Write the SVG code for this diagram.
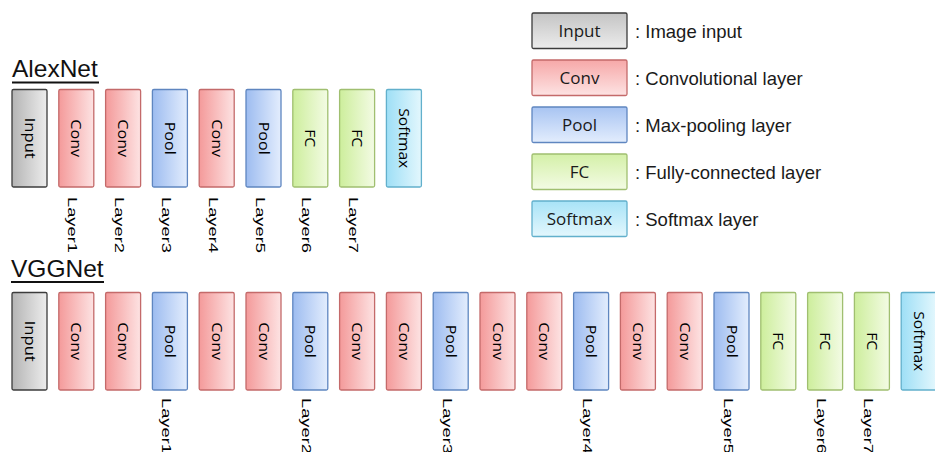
<svg xmlns="http://www.w3.org/2000/svg" width="935" height="452" viewBox="0 0 935 452">
<defs>
<linearGradient id="hIn" x1="0" y1="0" x2="1" y2="0"><stop offset="0" stop-color="#b4b4b4"/><stop offset="1" stop-color="#ededed"/></linearGradient>
<linearGradient id="hCv" x1="0" y1="0" x2="1" y2="0"><stop offset="0" stop-color="#f49a9a"/><stop offset="1" stop-color="#fde3e3"/></linearGradient>
<linearGradient id="hPl" x1="0" y1="0" x2="1" y2="0"><stop offset="0" stop-color="#9dbcf0"/><stop offset="1" stop-color="#e3edfd"/></linearGradient>
<linearGradient id="hFc" x1="0" y1="0" x2="1" y2="0"><stop offset="0" stop-color="#cdee9c"/><stop offset="1" stop-color="#f3fbe4"/></linearGradient>
<linearGradient id="hSm" x1="0" y1="0" x2="1" y2="0"><stop offset="0" stop-color="#9edff6"/><stop offset="1" stop-color="#e3f7fd"/></linearGradient>
<linearGradient id="vIn" x1="0" y1="0" x2="0" y2="1"><stop offset="0" stop-color="#c4c4c4"/><stop offset="1" stop-color="#ececec"/></linearGradient>
<linearGradient id="vCv" x1="0" y1="0" x2="0" y2="1"><stop offset="0" stop-color="#f6a8a8"/><stop offset="1" stop-color="#fde3e3"/></linearGradient>
<linearGradient id="vPl" x1="0" y1="0" x2="0" y2="1"><stop offset="0" stop-color="#a8c4f2"/><stop offset="1" stop-color="#e3edfd"/></linearGradient>
<linearGradient id="vFc" x1="0" y1="0" x2="0" y2="1"><stop offset="0" stop-color="#d4f0a8"/><stop offset="1" stop-color="#f3fbe4"/></linearGradient>
<linearGradient id="vSm" x1="0" y1="0" x2="0" y2="1"><stop offset="0" stop-color="#a8e3f7"/><stop offset="1" stop-color="#e3f7fd"/></linearGradient>
</defs>
<style>
rect{stroke-width:1.3}
.in{stroke:#3c3c3c}
.cv{stroke:#c46a6a}
.pl{stroke:#5f86c0}
.fc{stroke:#a0bf70}
.sm{stroke:#62b0cc}
.h.in{fill:url(#hIn)}.h.cv{fill:url(#hCv)}.h.pl{fill:url(#hPl)}.h.fc{fill:url(#hFc)}.h.sm{fill:url(#hSm)}
.v.in{fill:url(#vIn)}.v.cv{fill:url(#vCv)}.v.pl{fill:url(#vPl)}.v.fc{fill:url(#vFc)}.v.sm{fill:url(#vSm)}
.bt{font-family:"Open Sans","Noto Sans",sans-serif;font-size:16px;fill:#000;text-anchor:middle}
.lt{font-family:"Open Sans","Noto Sans",sans-serif;font-size:17px;fill:#1a1a1a;text-anchor:middle}
.lab{font-family:"Liberation Sans",Arial,sans-serif;font-size:18px;fill:#000}
.leg{font-family:"Liberation Sans",Arial,sans-serif;font-size:18.5px;fill:#1a1a1a}
.title{font-family:"Liberation Sans",Arial,sans-serif;font-size:24.5px;fill:#111}
.ul{stroke:#111;stroke-width:2}
</style>

<g id="titles">
<text class="title" x="12" y="77">AlexNet</text>
<line class="ul" x1="12" y1="82.5" x2="99" y2="82.5"/>
<text class="title" x="11" y="277">VGGNet</text>
<line class="ul" x1="11" y1="282" x2="104" y2="282"/>
</g>

<g id="connectors"/>

<!-- AlexNet -->
<g id="alex-input"><rect class="h in" x="12" y="89.5" width="35" height="97.5" rx="1.5"/><text class="bt" transform="translate(29.5,138.2) rotate(90) scale(1,0.85)" dy="0.36em" textLength="41" lengthAdjust="spacingAndGlyphs">Input</text></g>
<g id="alex-conv1"><rect class="h cv" x="58.8" y="89.5" width="35" height="97.5" rx="1.5"/><text class="bt" transform="translate(76.3,138.2) rotate(90) scale(1,0.85)" dy="0.36em" textLength="38" lengthAdjust="spacingAndGlyphs">Conv</text><text class="lab" transform="translate(68.3,197) rotate(90) scale(1,0.76)" textLength="56" lengthAdjust="spacingAndGlyphs">Layer1</text></g>
<g id="alex-conv2"><rect class="h cv" x="105.6" y="89.5" width="35" height="97.5" rx="1.5"/><text class="bt" transform="translate(123.1,138.2) rotate(90) scale(1,0.85)" dy="0.36em" textLength="38" lengthAdjust="spacingAndGlyphs">Conv</text><text class="lab" transform="translate(115.1,197) rotate(90) scale(1,0.76)" textLength="56" lengthAdjust="spacingAndGlyphs">Layer2</text></g>
<g id="alex-pool3"><rect class="h pl" x="152.4" y="89.5" width="35" height="97.5" rx="1.5"/><text class="bt" transform="translate(169.9,138.2) rotate(90) scale(1,0.85)" dy="0.36em" textLength="33" lengthAdjust="spacingAndGlyphs">Pool</text><text class="lab" transform="translate(161.9,197) rotate(90) scale(1,0.76)" textLength="56" lengthAdjust="spacingAndGlyphs">Layer3</text></g>
<g id="alex-conv4"><rect class="h cv" x="199.2" y="89.5" width="35" height="97.5" rx="1.5"/><text class="bt" transform="translate(216.7,138.2) rotate(90) scale(1,0.85)" dy="0.36em" textLength="38" lengthAdjust="spacingAndGlyphs">Conv</text><text class="lab" transform="translate(208.7,197) rotate(90) scale(1,0.76)" textLength="56" lengthAdjust="spacingAndGlyphs">Layer4</text></g>
<g id="alex-pool5"><rect class="h pl" x="246" y="89.5" width="35" height="97.5" rx="1.5"/><text class="bt" transform="translate(263.5,138.2) rotate(90) scale(1,0.85)" dy="0.36em" textLength="33" lengthAdjust="spacingAndGlyphs">Pool</text><text class="lab" transform="translate(255.5,197) rotate(90) scale(1,0.76)" textLength="56" lengthAdjust="spacingAndGlyphs">Layer5</text></g>
<g id="alex-fc6"><rect class="h fc" x="292.8" y="89.5" width="35" height="97.5" rx="1.5"/><text class="bt" transform="translate(310.3,138.2) rotate(90) scale(1,0.85)" dy="0.36em" textLength="18" lengthAdjust="spacingAndGlyphs">FC</text><text class="lab" transform="translate(302.3,197) rotate(90) scale(1,0.76)" textLength="56" lengthAdjust="spacingAndGlyphs">Layer6</text></g>
<g id="alex-fc7"><rect class="h fc" x="339.6" y="89.5" width="35" height="97.5" rx="1.5"/><text class="bt" transform="translate(357.1,138.2) rotate(90) scale(1,0.85)" dy="0.36em" textLength="18" lengthAdjust="spacingAndGlyphs">FC</text><text class="lab" transform="translate(349.1,197) rotate(90) scale(1,0.76)" textLength="56" lengthAdjust="spacingAndGlyphs">Layer7</text></g>
<g id="alex-softmax"><rect class="h sm" x="386.4" y="89.5" width="35" height="97.5" rx="1.5"/><text class="bt" transform="translate(403.9,138.2) rotate(90) scale(1,0.85)" dy="0.36em" textLength="60" lengthAdjust="spacingAndGlyphs">Softmax</text></g>

<!-- VGGNet -->
<g id="vgg-input"><rect class="h in" x="12" y="292.5" width="35" height="97.5" rx="1.5"/><text class="bt" transform="translate(29.5,341.2) rotate(90) scale(1,0.85)" dy="0.36em" textLength="41" lengthAdjust="spacingAndGlyphs">Input</text></g>
<g id="vgg-conv1"><rect class="h cv" x="58.8" y="292.5" width="35" height="97.5" rx="1.5"/><text class="bt" transform="translate(76.3,341.2) rotate(90) scale(1,0.85)" dy="0.36em" textLength="38" lengthAdjust="spacingAndGlyphs">Conv</text></g>
<g id="vgg-conv2"><rect class="h cv" x="105.6" y="292.5" width="35" height="97.5" rx="1.5"/><text class="bt" transform="translate(123.1,341.2) rotate(90) scale(1,0.85)" dy="0.36em" textLength="38" lengthAdjust="spacingAndGlyphs">Conv</text></g>
<g id="vgg-pool1"><rect class="h pl" x="152.4" y="292.5" width="35" height="97.5" rx="1.5"/><text class="bt" transform="translate(169.9,341.2) rotate(90) scale(1,0.85)" dy="0.36em" textLength="33" lengthAdjust="spacingAndGlyphs">Pool</text><text class="lab" transform="translate(161.9,398) rotate(90) scale(1,0.76)" textLength="56" lengthAdjust="spacingAndGlyphs">Layer1</text></g>
<g id="vgg-conv3"><rect class="h cv" x="199.2" y="292.5" width="35" height="97.5" rx="1.5"/><text class="bt" transform="translate(216.7,341.2) rotate(90) scale(1,0.85)" dy="0.36em" textLength="38" lengthAdjust="spacingAndGlyphs">Conv</text></g>
<g id="vgg-conv4"><rect class="h cv" x="246" y="292.5" width="35" height="97.5" rx="1.5"/><text class="bt" transform="translate(263.5,341.2) rotate(90) scale(1,0.85)" dy="0.36em" textLength="38" lengthAdjust="spacingAndGlyphs">Conv</text></g>
<g id="vgg-pool2"><rect class="h pl" x="292.8" y="292.5" width="35" height="97.5" rx="1.5"/><text class="bt" transform="translate(310.3,341.2) rotate(90) scale(1,0.85)" dy="0.36em" textLength="33" lengthAdjust="spacingAndGlyphs">Pool</text><text class="lab" transform="translate(302.3,398) rotate(90) scale(1,0.76)" textLength="56" lengthAdjust="spacingAndGlyphs">Layer2</text></g>
<g id="vgg-conv5"><rect class="h cv" x="339.6" y="292.5" width="35" height="97.5" rx="1.5"/><text class="bt" transform="translate(357.1,341.2) rotate(90) scale(1,0.85)" dy="0.36em" textLength="38" lengthAdjust="spacingAndGlyphs">Conv</text></g>
<g id="vgg-conv6"><rect class="h cv" x="386.4" y="292.5" width="35" height="97.5" rx="1.5"/><text class="bt" transform="translate(403.9,341.2) rotate(90) scale(1,0.85)" dy="0.36em" textLength="38" lengthAdjust="spacingAndGlyphs">Conv</text></g>
<g id="vgg-pool3"><rect class="h pl" x="433.2" y="292.5" width="35" height="97.5" rx="1.5"/><text class="bt" transform="translate(450.7,341.2) rotate(90) scale(1,0.85)" dy="0.36em" textLength="33" lengthAdjust="spacingAndGlyphs">Pool</text><text class="lab" transform="translate(442.7,398) rotate(90) scale(1,0.76)" textLength="56" lengthAdjust="spacingAndGlyphs">Layer3</text></g>
<g id="vgg-conv7"><rect class="h cv" x="480" y="292.5" width="35" height="97.5" rx="1.5"/><text class="bt" transform="translate(497.5,341.2) rotate(90) scale(1,0.85)" dy="0.36em" textLength="38" lengthAdjust="spacingAndGlyphs">Conv</text></g>
<g id="vgg-conv8"><rect class="h cv" x="526.8" y="292.5" width="35" height="97.5" rx="1.5"/><text class="bt" transform="translate(544.3,341.2) rotate(90) scale(1,0.85)" dy="0.36em" textLength="38" lengthAdjust="spacingAndGlyphs">Conv</text></g>
<g id="vgg-pool4"><rect class="h pl" x="573.6" y="292.5" width="35" height="97.5" rx="1.5"/><text class="bt" transform="translate(591.1,341.2) rotate(90) scale(1,0.85)" dy="0.36em" textLength="33" lengthAdjust="spacingAndGlyphs">Pool</text><text class="lab" transform="translate(583.1,398) rotate(90) scale(1,0.76)" textLength="56" lengthAdjust="spacingAndGlyphs">Layer4</text></g>
<g id="vgg-conv9"><rect class="h cv" x="620.4" y="292.5" width="35" height="97.5" rx="1.5"/><text class="bt" transform="translate(637.9,341.2) rotate(90) scale(1,0.85)" dy="0.36em" textLength="38" lengthAdjust="spacingAndGlyphs">Conv</text></g>
<g id="vgg-conv10"><rect class="h cv" x="667.2" y="292.5" width="35" height="97.5" rx="1.5"/><text class="bt" transform="translate(684.7,341.2) rotate(90) scale(1,0.85)" dy="0.36em" textLength="38" lengthAdjust="spacingAndGlyphs">Conv</text></g>
<g id="vgg-pool5"><rect class="h pl" x="714" y="292.5" width="35" height="97.5" rx="1.5"/><text class="bt" transform="translate(731.5,341.2) rotate(90) scale(1,0.85)" dy="0.36em" textLength="33" lengthAdjust="spacingAndGlyphs">Pool</text><text class="lab" transform="translate(723.5,398) rotate(90) scale(1,0.76)" textLength="56" lengthAdjust="spacingAndGlyphs">Layer5</text></g>
<g id="vgg-fc1"><rect class="h fc" x="760.8" y="292.5" width="35" height="97.5" rx="1.5"/><text class="bt" transform="translate(778.3,341.2) rotate(90) scale(1,0.85)" dy="0.36em" textLength="18" lengthAdjust="spacingAndGlyphs">FC</text></g>
<g id="vgg-fc2"><rect class="h fc" x="807.6" y="292.5" width="35" height="97.5" rx="1.5"/><text class="bt" transform="translate(825.1,341.2) rotate(90) scale(1,0.85)" dy="0.36em" textLength="18" lengthAdjust="spacingAndGlyphs">FC</text><text class="lab" transform="translate(817.1,398) rotate(90) scale(1,0.76)" textLength="56" lengthAdjust="spacingAndGlyphs">Layer6</text></g>
<g id="vgg-fc3"><rect class="h fc" x="854.4" y="292.5" width="35" height="97.5" rx="1.5"/><text class="bt" transform="translate(871.9,341.2) rotate(90) scale(1,0.85)" dy="0.36em" textLength="18" lengthAdjust="spacingAndGlyphs">FC</text><text class="lab" transform="translate(863.9,398) rotate(90) scale(1,0.76)" textLength="56" lengthAdjust="spacingAndGlyphs">Layer7</text></g>
<g id="vgg-softmax"><rect class="h sm" x="901.2" y="292.5" width="35" height="97.5" rx="1.5"/><text class="bt" transform="translate(918.7,341.2) rotate(90) scale(1,0.85)" dy="0.36em" textLength="60" lengthAdjust="spacingAndGlyphs">Softmax</text></g>

<!-- Legend -->
<g id="legend-input"><rect class="v in" x="532" y="13" width="95" height="35.5" rx="1.5"/><text class="lt" x="579.5" y="36.8">Input</text><text class="leg" x="635" y="37.5">: Image input</text></g>
<g id="legend-conv"><rect class="v cv" x="532" y="60" width="95" height="35.5" rx="1.5"/><text class="lt" x="579.5" y="83.8">Conv</text><text class="leg" x="635" y="84.5">: Convolutional layer</text></g>
<g id="legend-pool"><rect class="v pl" x="532" y="107" width="95" height="35.5" rx="1.5"/><text class="lt" x="579.5" y="130.8">Pool</text><text class="leg" x="635" y="131.5">: Max-pooling layer</text></g>
<g id="legend-fc"><rect class="v fc" x="532" y="154" width="95" height="35.5" rx="1.5"/><text class="lt" x="579.5" y="177.8">FC</text><text class="leg" x="635" y="178.5">: Fully-connected layer</text></g>
<g id="legend-softmax"><rect class="v sm" x="532" y="201" width="95" height="35.5" rx="1.5"/><text class="lt" x="579.5" y="224.8">Softmax</text><text class="leg" x="635" y="225.5">: Softmax layer</text></g>
</svg>
